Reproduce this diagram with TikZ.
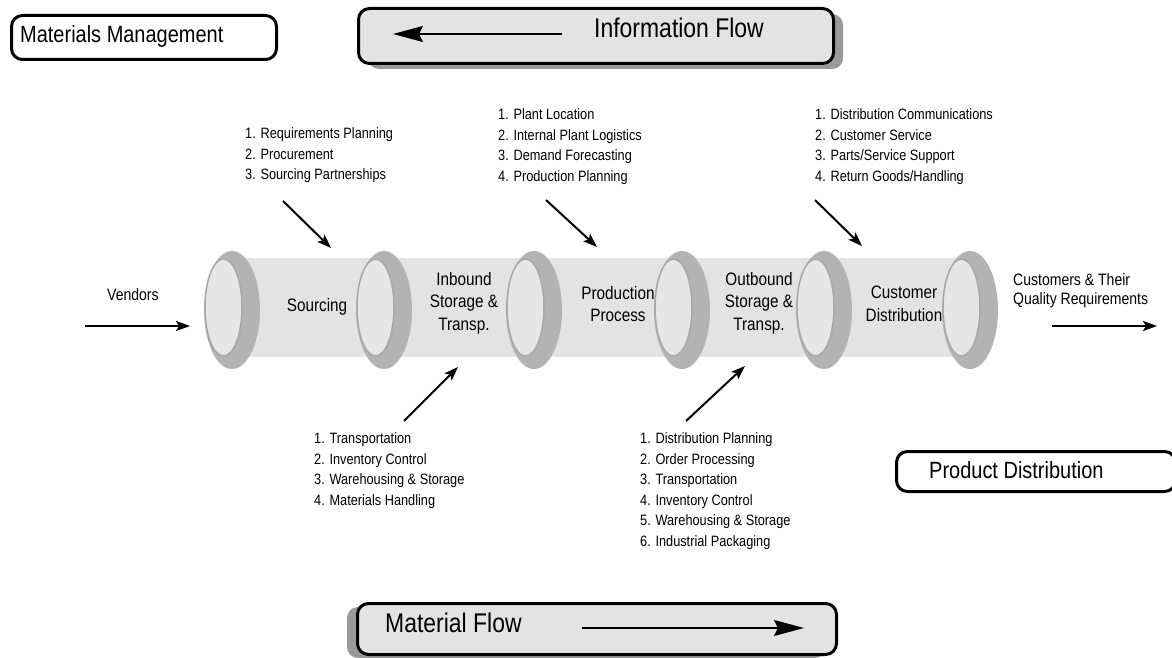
\documentclass[tikz,border=0pt]{standalone}
\usepackage{fontspec}
\setmainfont{Liberation Sans}[FakeStretch=0.85]
\usetikzlibrary{arrows.meta}
\definecolor{pipegray}{HTML}{E3E3E3}
\definecolor{ringgray}{HTML}{B3B3B3}
\definecolor{rimgray}{HTML}{A8A8A8}
\definecolor{openfill}{HTML}{E6E6E6}
\definecolor{boxgray}{HTML}{E3E3E3}
\definecolor{shadowgray}{HTML}{9A9A9A}
\begin{document}
\begin{tikzpicture}[x=1pt,y=-1pt,
  titlebox/.style={draw=black, line width=3pt, rounded corners=11pt, inner sep=0pt, anchor=north west},
  flowbox/.style={titlebox, fill=boxgray},
  titletext/.style={inner sep=0pt, anchor=base west, font=\fontsize{23.5}{26}\selectfont},
  flowtext/.style={inner sep=0pt, anchor=base west, font=\fontsize{27}{30}\selectfont},
  listtext/.style={anchor=north west, inner sep=0pt, align=left, font=\fontsize{15}{20.5}\selectfont},
  seglabel/.style={align=center, inner sep=0pt, anchor=north, font=\fontsize{18}{22.5}\selectfont},
  sidetext/.style={align=left, inner sep=0pt, anchor=north west, font=\fontsize{16.5}{19}\selectfont},
  diagarrow/.style={line width=2pt, -{Stealth[length=14pt,width=10pt,inset=3pt]}},
  sidearrow/.style={line width=2pt, -{Stealth[length=14pt,width=10pt,inset=3pt]}},
  flowarrow/.style={line width=1.5pt, -{Stealth[length=30pt,width=16pt,inset=4pt]}}
]
\useasboundingbox (0,0) rectangle (1172,658);
\clip (0,0) rectangle (1172,658);

% pipe body
\fill[pipegray] (232,258) rectangle (970,357);
% rings
\foreach \cx in {232,384,534,682,824,970}{
  \fill[ringgray] (\cx,310) ellipse [x radius=28, y radius=59];
  \filldraw[fill=openfill, draw=rimgray, line width=1.5pt] (\cx-8.5,307.5) ellipse [x radius=18.5, y radius=48.5];
}

% segment labels
\node[inner sep=0pt, anchor=base, font=\fontsize{18}{22.5}\selectfont] (sourcing) at (317,311) {Sourcing};
\node[seglabel] (inbound) at (464,272) {Inbound\\Storage \&\\Transp.};
\node[seglabel] (production) at (618,286) {Production\\Process};
\node[seglabel] (outbound) at (759,272) {Outbound\\Storage \&\\Transp.};
\node[seglabel] (customer) at (904,286) {Customer\\Distribution};

% title boxes
\node[titlebox, minimum width=265pt, minimum height=44pt] (mmbox) at (10,14) {};
\node[titletext] (mmtext) at (20,43) {Materials Management};

\fill[shadowgray, rounded corners=11pt] (368,14) rectangle (843,69);
\node[flowbox, minimum width=475pt, minimum height=55pt] (infobox) at (357,7) {};
\node[flowtext] (infotext) at (594,38) {Information Flow};
\coordinate (infoA) at (562,34);
\coordinate (infoB) at (393,34);
\draw[flowarrow] (infoA) -- (infoB);

\fill[shadowgray, rounded corners=11pt] (347,607) rectangle (826,658);
\node[flowbox, minimum width=479pt, minimum height=51pt] (matbox) at (356,602) {};
\node[flowtext] (mattext) at (385,632) {Material Flow};
\coordinate (matA) at (582,628);
\coordinate (matB) at (804,628);
\draw[flowarrow] (matA) -- (matB);

\node[titlebox, minimum width=279pt, minimum height=40pt] (pdbox) at (895,450) {};
\node[titletext] (pdtext) at (929,478) {Product Distribution};

% vendors and customers
\node[inner sep=0pt, anchor=base west, font=\fontsize{16.5}{19}\selectfont] (vendors) at (107,300) {Vendors};
\coordinate (vA) at (85,326);
\coordinate (vB) at (190,326);
\draw[sidearrow] (vA) -- (vB);
\node[sidetext] (customers) at (1013,273) {Customers \& Their\\Quality Requirements};
\coordinate (cA) at (1052,326);
\coordinate (cB) at (1157,326);
\draw[sidearrow] (cA) -- (cB);

% lists
\node[listtext] (list1) at (245,127.5) {1. Requirements Planning\\2. Procurement\\3. Sourcing Partnerships};
\node[listtext] (list2) at (498,108.5) {1. Plant Location\\2. Internal Plant Logistics\\3. Demand Forecasting\\4. Production Planning};
\node[listtext] (list3) at (815,108.5) {1. Distribution Communications\\2. Customer Service\\3. Parts/Service Support\\4. Return Goods/Handling};
\node[listtext] (list4) at (314,432.5) {1. Transportation\\2. Inventory Control\\3. Warehousing \& Storage\\4. Materials Handling};
\node[listtext] (list5) at (640,432.5) {1. Distribution Planning\\2. Order Processing\\3. Transportation\\4. Inventory Control\\5. Warehousing \& Storage\\6. Industrial Packaging};

% diagonal arrows
\coordinate (a1s) at (283,201); \coordinate (a1e) at (331,248);
\coordinate (a2s) at (546,200); \coordinate (a2e) at (597,247);
\coordinate (a3s) at (815,200); \coordinate (a3e) at (862,246);
\coordinate (a4s) at (404,421); \coordinate (a4e) at (458,367);
\coordinate (a5s) at (686,421); \coordinate (a5e) at (745,366);
\draw[diagarrow] (a1s) -- (a1e);
\draw[diagarrow] (a2s) -- (a2e);
\draw[diagarrow] (a3s) -- (a3e);
\draw[diagarrow] (a4s) -- (a4e);
\draw[diagarrow] (a5s) -- (a5e);
\end{tikzpicture}
\end{document}
